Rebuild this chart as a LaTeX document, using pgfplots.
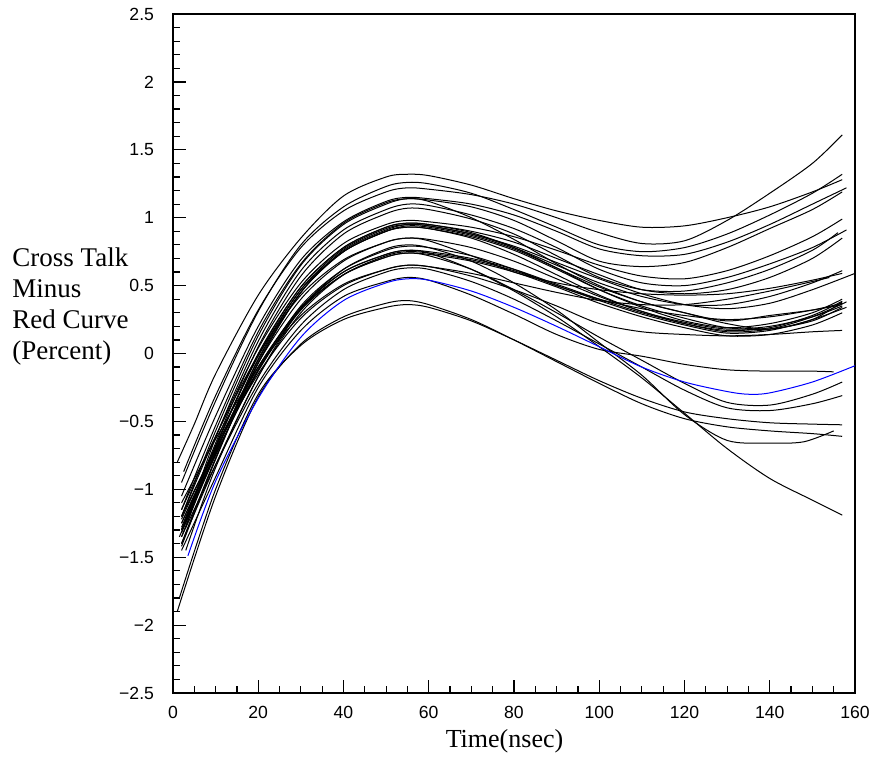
\documentclass[border=0pt]{standalone}
\usepackage{fontspec}
\setmainfont{Liberation Serif}
\newfontfamily\tickfont{Liberation Sans}
\usepackage{pgfplots}
\pgfplotsset{compat=1.18}

\begin{document}
\begin{tikzpicture}
\path[use as bounding box] (0,0) rectangle (437.5pt,378.5pt);
\begin{axis}[
    at={(86.5pt,32pt)}, anchor=south west,
    scale only axis,
    width=341pt, height=339.5pt,
    xmin=0, xmax=160, ymin=-2.5, ymax=2.5,
    axis line style={line width=0.9pt},
    tick align=inside,
    xtick pos=bottom, ytick pos=left,
    xtick={0,20,40,60,80,100,120,140,160},
    xticklabels={0,20,40,60,80,100,120,140,160},
    ytick={-2.5,-2,-1.5,-1,-0.5,0,0.5,1,1.5,2,2.5},
    yticklabels={−2.5,−2,−1.5,−1,−0.5,0,0.5,1,1.5,2,2.5},
    minor x tick num=3, minor y tick num=4,
    major tick length=6.5pt, minor tick length=3.5pt,
    every tick/.style={black, line width=0.6pt},
    ticklabel style={font=\tickfont\fontsize{8.8}{10}\selectfont},
    yticklabel style={xshift=-6pt},
    xticklabel style={yshift=-3pt},
    every axis plot/.append style={line width=0.5pt, smooth},
]
% black curves
\addplot[black] coordinates {(1,-0.80) (5,-0.52) (10,-0.15) (20,0.43) (30,0.85) (40,1.16) (50,1.30) (55,1.32) (60,1.31) (70,1.24) (80,1.14) (90,1.05) (100,0.98) (110,0.93) (120,0.94) (130,1.00) (140,1.08) (150,1.19) (157,1.28)};
\addplot[black] coordinates {(2.5,-0.87) (10,-0.31) (20,0.32) (30,0.78) (40,1.05) (50,1.19) (55,1.22) (60,1.21) (70,1.17) (80,1.10) (90,1.00) (100,0.89) (110,0.81) (120,0.83) (130,0.98) (140,1.18) (150,1.40) (157,1.61)};
\addplot[black] coordinates {(2,-0.95) (10,-0.35) (20,0.31) (30,0.80) (40,1.08) (50,1.23) (55,1.26) (60,1.25) (70,1.18) (80,1.06) (90,0.93) (100,0.80) (110,0.75) (120,0.78) (130,0.88) (140,1.02) (150,1.18) (157,1.32)};
\addplot[black] coordinates {(2,-1.05) (10,-0.46) (20,0.20) (30,0.69) (40,0.97) (50,1.12) (55,1.15) (60,1.14) (70,1.10) (80,1.02) (90,0.90) (100,0.77) (110,0.72) (120,0.73) (130,0.82) (140,0.95) (150,1.10) (158,1.22)};
\addplot[black] coordinates {(2,-1.15) (10,-0.53) (20,0.16) (30,0.66) (40,0.96) (50,1.11) (55,1.14) (60,1.13) (70,1.08) (80,0.98) (90,0.83) (100,0.68) (110,0.64) (120,0.67) (130,0.78) (140,0.92) (150,1.06) (157,1.19)};
\addplot[black] coordinates {(2,-1.20) (10,-0.57) (20,0.13) (30,0.65) (40,0.95) (50,1.10) (55,1.14) (60,1.12) (70,1.00) (80,0.84) (90,0.66) (100,0.50) (110,0.38) (120,0.30) (130,0.24) (140,0.28) (150,0.32) (157,0.36)};
\addplot[black] coordinates {(3,-1.25) (10,-0.62) (20,0.09) (30,0.61) (40,0.91) (50,1.06) (55,1.10) (60,1.09) (70,1.02) (80,0.92) (90,0.78) (100,0.62) (110,0.52) (120,0.50) (130,0.56) (140,0.66) (150,0.78) (158,0.91)};
\addplot[black] coordinates {(2,-1.30) (10,-0.66) (20,0.05) (30,0.57) (40,0.88) (50,1.03) (55,1.07) (60,1.06) (70,0.99) (80,0.88) (90,0.72) (100,0.56) (110,0.47) (120,0.46) (130,0.52) (140,0.62) (150,0.76) (156,0.89)};
\addplot[black] coordinates {(2,-1.20) (10,-0.61) (20,0.04) (30,0.52) (40,0.81) (50,0.95) (55,0.98) (60,0.97) (70,0.93) (80,0.86) (90,0.76) (100,0.65) (110,0.57) (120,0.55) (130,0.61) (140,0.72) (150,0.86) (157,0.99)};
\addplot[black] coordinates {(2,-1.30) (10,-0.69) (20,-0.01) (30,0.49) (40,0.78) (50,0.93) (55,0.96) (60,0.95) (70,0.90) (80,0.82) (90,0.70) (100,0.58) (110,0.47) (120,0.44) (130,0.47) (140,0.56) (150,0.70) (157,0.85)};
\addplot[black] coordinates {(1.5,-1.35) (10,-0.73) (20,-0.04) (30,0.47) (40,0.77) (50,0.92) (55,0.95) (60,0.94) (70,0.88) (80,0.78) (90,0.65) (100,0.52) (110,0.42) (120,0.36) (130,0.36) (140,0.42) (150,0.52) (157,0.61)};
\addplot[black] coordinates {(2,-1.40) (10,-0.77) (20,-0.07) (30,0.45) (40,0.75) (50,0.90) (55,0.94) (60,0.93) (70,0.87) (80,0.77) (90,0.63) (100,0.49) (110,0.38) (120,0.30) (130,0.22) (140,0.18) (150,0.25) (157,0.38)};
\addplot[black] coordinates {(3,-1.28) (10,-0.68) (20,-0.02) (30,0.47) (40,0.75) (50,0.90) (55,0.93) (60,0.92) (70,0.86) (80,0.76) (90,0.62) (100,0.47) (110,0.35) (120,0.26) (130,0.19) (140,0.18) (150,0.24) (157,0.34)};
\addplot[black] coordinates {(2,-1.30) (10,-0.74) (20,-0.13) (30,0.33) (40,0.60) (50,0.73) (55,0.76) (60,0.74) (70,0.62) (80,0.46) (90,0.27) (100,0.05) (110,-0.18) (120,-0.44) (130,-0.70) (140,-0.92) (150,-1.08) (157,-1.19)};
\addplot[black] coordinates {(3,-1.45) (10,-0.84) (20,-0.17) (30,0.33) (40,0.62) (50,0.77) (55,0.80) (60,0.78) (70,0.68) (80,0.52) (90,0.32) (100,0.08) (110,-0.16) (120,-0.45) (130,-0.64) (140,-0.66) (148,-0.65) (155,-0.57)};
\addplot[black] coordinates {(1,-1.90) (10,-1.05) (20,-0.32) (30,0.07) (40,0.27) (50,0.37) (55,0.39) (60,0.36) (70,0.25) (80,0.10) (90,-0.06) (100,-0.22) (110,-0.37) (120,-0.48) (130,-0.54) (140,-0.57) (150,-0.59) (157,-0.61)};
\addplot[black] coordinates {(1.5,-1.80) (10,-1.00) (20,-0.30) (30,0.06) (40,0.25) (50,0.34) (55,0.36) (60,0.34) (70,0.24) (80,0.10) (90,-0.05) (100,-0.20) (110,-0.33) (120,-0.43) (130,-0.48) (140,-0.51) (150,-0.52) (157,-0.525)};
\addplot[black] coordinates {(2,-1.35) (10,-0.82) (20,-0.22) (30,0.21) (40,0.47) (50,0.60) (55,0.63) (60,0.62) (70,0.53) (80,0.40) (90,0.24) (100,0.07) (110,-0.10) (120,-0.27) (130,-0.40) (140,-0.42) (150,-0.37) (157,-0.31)};
\addplot[black] coordinates {(2,-1.25) (10,-0.71) (20,-0.12) (30,0.32) (40,0.58) (50,0.71) (55,0.74) (60,0.72) (70,0.62) (80,0.47) (90,0.30) (100,0.12) (110,-0.05) (120,-0.22) (130,-0.36) (140,-0.38) (150,-0.30) (157,-0.21)};
\addplot[black] coordinates {(2,-1.45) (10,-0.91) (20,-0.25) (30,0.17) (40,0.42) (50,0.53) (55,0.56) (60,0.54) (70,0.43) (80,0.29) (90,0.14) (100,0.03) (110,-0.02) (120,-0.08) (130,-0.12) (140,-0.13) (150,-0.13) (155,-0.135)};
\addplot[black] coordinates {(2,-1.20) (10,-0.70) (20,-0.15) (30,0.26) (40,0.50) (50,0.62) (55,0.65) (60,0.64) (70,0.57) (80,0.47) (90,0.35) (100,0.22) (110,0.16) (120,0.14) (130,0.13) (140,0.14) (150,0.16) (157,0.17)};
\addplot[black] coordinates {(2,-1.30) (10,-0.72) (20,-0.07) (30,0.40) (40,0.68) (50,0.82) (55,0.85) (60,0.84) (70,0.78) (80,0.68) (90,0.55) (100,0.42) (110,0.31) (120,0.22) (130,0.17) (140,0.19) (150,0.28) (157,0.385)};
\addplot[black] coordinates {(2,-1.25) (10,-0.71) (20,-0.10) (30,0.34) (40,0.60) (50,0.73) (55,0.76) (60,0.75) (70,0.70) (80,0.62) (90,0.51) (100,0.40) (110,0.30) (120,0.22) (130,0.16) (140,0.18) (150,0.27) (158,0.38)};
\addplot[black] coordinates {(2,-1.40) (10,-0.82) (20,-0.17) (30,0.30) (40,0.58) (50,0.72) (55,0.75) (60,0.74) (70,0.69) (80,0.61) (90,0.50) (100,0.39) (110,0.29) (120,0.21) (130,0.15) (140,0.17) (150,0.25) (158,0.34)};
\addplot[black] coordinates {(2,-1.22) (10,-0.69) (20,-0.10) (30,0.33) (40,0.58) (50,0.71) (55,0.74) (60,0.73) (70,0.68) (80,0.60) (90,0.49) (100,0.37) (110,0.27) (120,0.19) (130,0.13) (140,0.14) (150,0.21) (157,0.30)};
\addplot[black] coordinates {(2,-1.35) (10,-0.73) (20,-0.05) (30,0.45) (40,0.75) (50,0.90) (55,0.93) (60,0.92) (70,0.85) (80,0.73) (90,0.58) (100,0.43) (110,0.31) (120,0.23) (130,0.18) (140,0.20) (150,0.27) (157,0.35)};
\addplot[black] coordinates {(2,-1.28) (10,-0.68) (20,0.00) (30,0.49) (40,0.78) (50,0.93) (55,0.96) (60,0.95) (70,0.89) (80,0.78) (90,0.63) (100,0.47) (110,0.34) (120,0.24) (130,0.19) (140,0.22) (150,0.30) (157,0.40)};
\addplot[black] coordinates {(2,-1.32) (10,-0.75) (20,-0.12) (30,0.35) (40,0.62) (50,0.76) (55,0.79) (60,0.78) (70,0.72) (80,0.62) (90,0.50) (100,0.40) (110,0.33) (120,0.28) (130,0.25) (140,0.27) (150,0.32) (157,0.37)};
\addplot[black] coordinates {(2,-1.42) (10,-0.78) (20,-0.07) (30,0.45) (40,0.76) (50,0.91) (55,0.95) (60,0.94) (70,0.88) (80,0.79) (90,0.67) (100,0.55) (110,0.44) (120,0.36) (130,0.33) (140,0.37) (150,0.47) (160,0.59)};
\addplot[black] coordinates {(2,-1.10) (10,-0.63) (20,-0.10) (30,0.28) (40,0.51) (50,0.62) (55,0.65) (60,0.64) (70,0.59) (80,0.52) (90,0.45) (100,0.39) (110,0.36) (120,0.36) (130,0.40) (140,0.46) (150,0.53) (154,0.56)};
\addplot[black] coordinates {(2,-1.15) (10,-0.61) (20,-0.01) (30,0.43) (40,0.69) (50,0.82) (55,0.85) (60,0.83) (70,0.72) (80,0.60) (90,0.52) (100,0.47) (110,0.44) (120,0.43) (130,0.44) (140,0.48) (150,0.54) (157,0.59)};
% blue curve
\addplot[blue] coordinates {(3.5,-1.49) (10,-0.94) (20,-0.33) (30,0.12) (40,0.39) (50,0.52) (55,0.55) (60,0.54) (70,0.46) (80,0.34) (90,0.20) (100,0.05) (110,-0.10) (120,-0.21) (130,-0.28) (135,-0.30) (140,-0.29) (150,-0.21) (160,-0.09)};
\end{axis}
\begin{scope}[every node/.style={anchor=base west, inner sep=0pt, font=\fontsize{13.5}{15}\selectfont}]
\node at (6pt,245pt) {Cross Talk};
\node at (6pt,229.5pt) {Minus};
\node at (6pt,214pt) {Red Curve};
\node at (6pt,198.5pt) {(Percent)};
\end{scope}
\node[anchor=base, inner sep=0pt, font=\fontsize{13}{15}\selectfont] at (252.25pt,5pt) {Time(nsec)};
\end{tikzpicture}
\end{document}
